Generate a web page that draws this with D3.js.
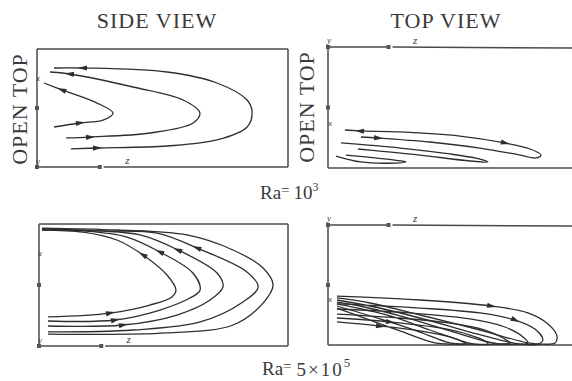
<!DOCTYPE html>
<html>
<head>
<meta charset="utf-8">
<script src="https://cdn.jsdelivr.net/npm/d3@7"></script>
<style>
body { margin: 0; background: #fff; }
svg { display: block; }
text { font-family: "Liberation Serif", "DejaVu Serif", serif; fill: #3a3a3a; }
</style>
</head>
<body>
<svg id="fig" width="572" height="381"></svg>
<script>
// streamline points as [z, height] fractions of each box, in flow order
const sideLowLines = [
    [[.135,.153],[.239,.161],[.518,.178],[.717,.229],[.837,.339],[.857,.466],[.837,.568],[.717,.712],[.518,.805],[.183,.839],[.068,.839]],
    [[.116,.246],[.211,.254],[.450,.288],[.622,.373],[.649,.458],[.582,.568],[.382,.678],[.131,.788],[.052,.805]],
    [[.068,.339],[.171,.373],[.263,.398],[.303,.458],[.239,.542],[.100,.653],[.028,.712]]
];
const sideLowArrows = [[0,1,1],[0,9,1],[1,1,1],[1,7,1],[2,1,1],[2,5,1]];

const topLowLines = [
    [[.070,.686],[.132,.694],[.298,.702],[.545,.736],[.731,.793],[.835,.843],[.880,.893],[.860,.917],[.793,.893],[.628,.835],[.421,.785],[.207,.752],[.136,.744]],
    [[.054,.793],[.298,.835],[.504,.884],[.628,.926],[.661,.950],[.587,.942],[.380,.893],[.215,.860],[.124,.843]],
    [[.074,.893],[.194,.917],[.302,.942],[.322,.950],[.277,.959],[.136,.950],[.033,.901]]
];
const topLowArrows = [[0,1,-1],[0,4,1],[0,11,-1]];

const sideHighLines = [
    [[.036,.238],[.285,.270],[.446,.336],[.534,.402],[.550,.459],[.514,.582],[.418,.746],[.313,.869],[.177,.934],[.012,.951]],
    [[.036,.205],[.305,.213],[.486,.295],[.606,.393],[.647,.459],[.618,.598],[.486,.770],[.353,.893],[.177,.943],[.012,.951]],
    [[.036,.164],[.337,.172],[.554,.254],[.687,.377],[.739,.484],[.715,.598],[.558,.787],[.406,.910],[.245,.943],[.012,.959]],
    [[.036,.115],[.378,.131],[.647,.197],[.819,.361],[.880,.484],[.835,.607],[.635,.803],[.474,.926],[.245,.943],[.012,.959]],
    [[.036,.098],[.514,.107],[.779,.172],[.900,.352],[.940,.500],[.900,.639],[.779,.787],[.594,.910],[.313,.951],[.012,.967]]
];
const sideHighArrows = [[0,1,1],[1,1,1],[2,1,1],[0,6,1],[1,6,1],[2,6,1],[3,6,1]];

const topHighLines = [
    [[.037,.592],[.380,.625],[.674,.675],[.826,.733],[.909,.825],[.946,.925],[.938,.983],[.876,.992],[.826,.983],[.628,.875],[.380,.750],[.174,.650],[.037,.608]],
    [[.037,.658],[.380,.692],[.628,.733],[.773,.792],[.855,.867],[.888,.958],[.868,.992],[.793,.992],[.744,.975],[.587,.892],[.380,.775],[.174,.675],[.037,.625]],
    [[.037,.700],[.339,.733],[.587,.783],[.731,.850],[.806,.933],[.826,.983],[.773,.992],[.711,.992],[.661,.975],[.504,.883],[.298,.758],[.132,.675],[.037,.642]],
    [[.037,.742],[.298,.775],[.504,.817],[.649,.875],[.723,.942],[.752,.983],[.690,.992],[.607,.992],[.566,.975],[.421,.875],[.256,.758],[.037,.658]],
    [[.037,.775],[.256,.808],[.463,.858],[.587,.917],[.649,.967],[.661,.992],[.587,.992],[.504,.983],[.380,.892],[.215,.783],[.037,.675]],
    [[.037,.808],[.215,.842],[.380,.883],[.504,.933],[.558,.975],[.570,.992],[.504,.992],[.442,.983],[.298,.883],[.174,.792],[.037,.692]]
];
const topHighArrows = [[0,2,1],[1,3,1],[4,1,1],[5,1,1]];

const zTick = 0.25;
const hTick = 0.5;
const zLabelPos = 0.36;
const viewTitles = ['SIDE VIEW', 'TOP VIEW'];
const sideLabel = 'OPEN TOP';

const svg = d3.select('#fig');
const ink = '#2e2e2e';
const frameInk = '#4a4a4a';

function drawPanel(p) {
    const g = svg.append('g');
    const x = d3.scaleLinear().domain([0, 1]).range([p.left, p.left + p.w]);
    const y = d3.scaleLinear().domain([0, 1])
        .range(p.fromTop ? [p.top, p.top + p.h] : [p.top + p.h, p.top]);
    const bottom = p.top + p.h;
    const right = p.left + p.w;

    const seg = (x1, y1, x2, y2) => g.append('line')
        .attr('x1', x1).attr('y1', y1).attr('x2', x2).attr('y2', y2)
        .attr('stroke', frameInk).attr('stroke-width', 1.5);

    const mk = x(zTick);
    seg(p.left, p.top, p.left, bottom);
    if (p.fromTop) {
        seg(p.left, p.top, mk, p.top);
        seg(mk + 4, p.top, 572, p.top + 1);
        seg(p.left, bottom, 572, bottom);
    } else {
        seg(p.left, p.top, right, p.top);
        seg(right, p.top, right, bottom);
        seg(p.left, bottom, mk, bottom);
        seg(mk + 4, bottom, right, bottom);
    }

    const axisY = p.fromTop ? p.top : bottom;
    const sq = [[p.left, axisY], [mk, axisY], [p.left, y(hTick)]];
    g.selectAll('rect.mk').data(sq).join('rect')
        .attr('class', 'mk')
        .attr('x', d => d[0] - 2).attr('y', d => d[1] - 2)
        .attr('width', 4).attr('height', 4)
        .attr('fill', '#555');

    const small = (t, tx, ty, size) => g.append('text')
        .attr('x', tx).attr('y', ty).attr('font-size', size)
        .attr('font-style', 'italic').attr('text-anchor', 'middle').text(t);
    small('z', x(zLabelPos), axisY - 3, 11);
    if (p.fromTop) {
        small('y', p.left + 1, p.top - 4, 9);
        small('x', p.left + 2, p.xLab, 9);
    } else {
        small('x', p.left + 1, p.xLab, 9);
        small('y', p.left + 1, bottom - 3, 9);
    }

    const line = d3.line()
        .x(d => x(d[0])).y(d => y(d[1]))
        .curve(d3.curveCatmullRom.alpha(0.5));

    g.selectAll('path.stream').data(p.lines).join('path')
        .attr('class', 'stream')
        .attr('d', line)
        .attr('fill', 'none')
        .attr('stroke', ink)
        .attr('stroke-width', 1.3);

    g.selectAll('path.arrow').data(p.arrows).join('path')
        .attr('class', 'arrow')
        .attr('d', 'M5,0 L-4,-2.6 L-4,2.6 Z')
        .attr('fill', ink)
        .attr('transform', d => {
            const a = p.lines[d[0]][d[1]];
            const b = p.lines[d[0]][d[1] + d[2]];
            const ang = Math.atan2(y(b[1]) - y(a[1]), x(b[0]) - x(a[0])) * 180 / Math.PI;
            return `translate(${x(a[0])},${y(a[1])}) rotate(${ang})`;
        });
}

drawPanel({ left: 37, top: 49, w: 251, h: 118, fromTop: false, xLab: 81, lines: sideLowLines, arrows: sideLowArrows });
drawPanel({ left: 328, top: 47, w: 242, h: 121, fromTop: true, xLab: 126, lines: topLowLines, arrows: topLowArrows });
drawPanel({ left: 39, top: 224, w: 249, h: 122, fromTop: false, xLab: 256, lines: sideHighLines, arrows: sideHighArrows });
drawPanel({ left: 328, top: 225, w: 242, h: 120, fromTop: true, xLab: 302, lines: topHighLines, arrows: topHighArrows });

// titles
svg.append('text').attr('x', 157).attr('y', 28).attr('text-anchor', 'middle')
    .attr('font-size', 22).attr('letter-spacing', 1).text(viewTitles[0]);
svg.append('text').attr('x', 446).attr('y', 28).attr('text-anchor', 'middle')
    .attr('font-size', 22).attr('letter-spacing', 1).text(viewTitles[1]);

// side labels
[[27, 109], [314, 107]].forEach(([tx, ty]) => {
    svg.append('text')
        .attr('transform', `translate(${tx},${ty}) rotate(-90)`)
        .attr('text-anchor', 'middle')
        .attr('font-size', 22).attr('letter-spacing', 1)
        .text(sideLabel);
});

// Rayleigh numbers
const ra1 = svg.append('text').attr('x', 260).attr('y', 199).attr('font-size', 19);
ra1.append('tspan').text('Ra');
ra1.append('tspan').attr('font-size', 15).attr('dy', -4).text('=');
ra1.append('tspan').attr('dy', 4).attr('dx', 4).text('10');
ra1.append('tspan').attr('font-size', 12).attr('dy', -8).text('3');

const ra2 = svg.append('text').attr('x', 262).attr('y', 375).attr('font-size', 19);
ra2.append('tspan').text('Ra');
ra2.append('tspan').attr('font-size', 15).attr('dy', -4).text('=');
ra2.append('tspan').attr('font-size', 19).attr('dy', 5).attr('dx', 5).attr('letter-spacing', 2).text('5×10');
ra2.append('tspan').attr('font-size', 13).attr('dy', -9).text('5');
</script>
</body>
</html>
